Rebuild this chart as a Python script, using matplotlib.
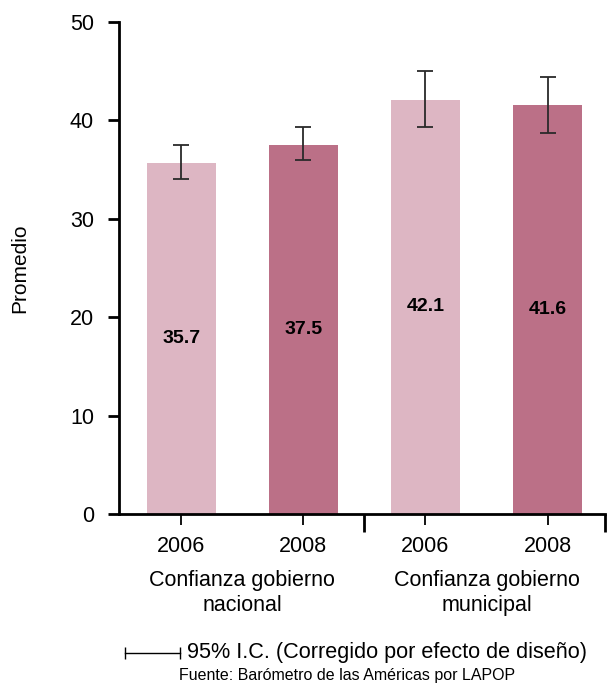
import matplotlib
matplotlib.use('Agg')
import matplotlib.pyplot as plt
from matplotlib.lines import Line2D
import numpy as np

# Values per bar: national 2006/2008, municipal 2006/2008
years = ['2006', '2008', '2006', '2008']
groups = ['Confianza gobierno\nnacional', 'Confianza gobierno\nmunicipal']
means = [35.7, 37.5, 42.1, 41.6]
ci_low = [34.0, 36.0, 39.3, 38.7]
ci_high = [37.5, 39.3, 45.0, 44.4]
colors = ['#ddb6c3', '#bb7087', '#ddb6c3', '#bb7087']

plt.rcParams['font.family'] = ['Liberation Sans', 'DejaVu Sans']

fig = plt.figure(figsize=(6.07, 6.84), dpi=100)
ax = fig.add_axes([0.196, 0.2485, 0.8007, 0.7193])

x = np.arange(len(means))
ax.bar(x, means, width=0.565, color=colors)

yerr = [np.array(means) - np.array(ci_low), np.array(ci_high) - np.array(means)]
ax.errorbar(x, means, yerr=yerr, fmt='none', ecolor='#2a2a2a',
            elinewidth=1.3, capsize=6, capthick=1.3)

for xi, m in zip(x, means):
    ax.text(xi, m / 2, f'{m:.1f}', ha='center', va='center',
            fontsize=14, fontweight='bold', color='black')

ax.set_xlim(-0.51, 3.47)
ax.set_ylim(0, 50)
ax.set_yticks([0, 10, 20, 30, 40, 50])
ax.set_xticks(x)
ax.set_xticklabels(years)
ax.tick_params(axis='y', labelsize=15.5, length=8, width=2, pad=10)
ax.tick_params(axis='x', labelsize=15.5, length=8, width=1.3, pad=8)

# longer ticks separating the two groups
ax.set_xticks([1.5, 3.47], minor=True)
ax.tick_params(axis='x', which='minor', length=13, width=2)

for side in ['top', 'right']:
    ax.spines[side].set_visible(False)
ax.spines['left'].set_linewidth(2)
ax.spines['bottom'].set_linewidth(2)

ax.set_ylabel('Promedio', fontsize=15)
ax.yaxis.set_label_coords(-0.185, 0.5)

# group labels under the year labels
for gi, label in enumerate(groups):
    gx = (x[2 * gi] + x[2 * gi + 1]) / 2
    ax.annotate(label, xy=(gx, 0), xycoords=('data', 'axes fraction'),
                xytext=(0, -40), textcoords='offset points',
                ha='center', va='top', fontsize=15.5, linespacing=1.3)

# confidence interval key
fig.add_artist(Line2D([0.206, 0.296], [0.046, 0.046], color='black', lw=1,
                      marker='|', markersize=9, markeredgewidth=1,
                      transform=fig.transFigure))
fig.text(0.308, 0.046, '95% I.C. (Corregido por efecto de diseño)',
         ha='left', va='center', fontsize=15.6)
fig.text(0.572, 0.012, 'Fuente: Barómetro de las Américas por LAPOP',
         ha='center', va='center', fontsize=11.5)

fig.savefig('out.png', dpi=100)
